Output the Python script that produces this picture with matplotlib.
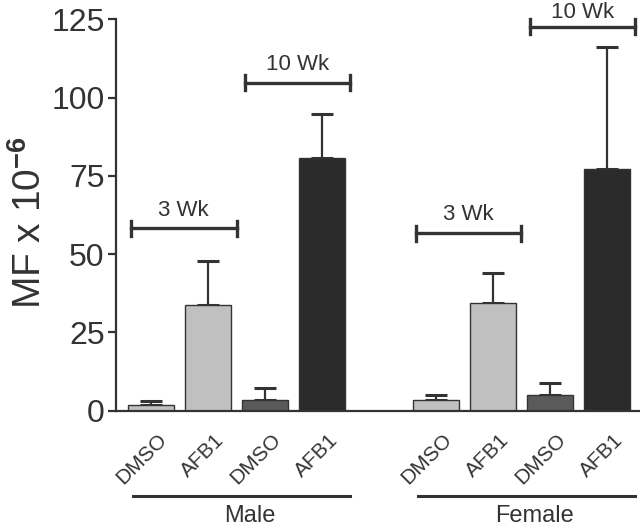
import numpy as np
import matplotlib as mpl
mpl.use('Agg')
import matplotlib.pyplot as plt
import matplotlib.transforms as mtransforms

plt.rcParams['font.family'] = ['Liberation Sans', 'DejaVu Sans']
plt.rcParams['mathtext.fontset'] = 'custom'
plt.rcParams['mathtext.rm'] = 'Liberation Sans'
plt.rcParams['mathtext.bf'] = 'Liberation Sans:bold'

# data
treatments = ['DMSO', 'AFB1', 'DMSO', 'AFB1']
groups = ['Male', 'Female']
male_mf = [1.9, 33.9, 3.5, 80.8]
male_err = [1.1, 14.0, 3.8, 13.8]
female_mf = [3.5, 34.4, 5.1, 77.3]
female_err = [1.6, 9.6, 3.7, 38.7]
bracket_labels = ['3 Wk', '10 Wk']
male_bracket_y = [58.3, 104.8]
female_bracket_y = [56.7, 122.7]
male_label_y = [64.6, 111.4]
female_label_y = [63.6, 128.0]

fills = ['#c0c0c0', '#c0c0c0', '#5a5a5a', '#2b2b2b']
ink = '#333333'

fig = plt.figure(figsize=(6.4, 5.29), dpi=100)
ax = fig.add_axes([115.7 / 640, 1 - 410.7 / 529, 1 - 115.7 / 640, 391.4 / 529])

positions = [np.arange(4), np.arange(4) + 5]
for pos, vals, errs, bys, lys in zip(positions, [male_mf, female_mf],
                                     [male_err, female_err],
                                     [male_bracket_y, female_bracket_y],
                                     [male_label_y, female_label_y]):
    ax.bar(pos, vals, width=0.8, color=fills, edgecolor=ink, linewidth=1.0, zorder=2)
    ax.errorbar(pos, vals, yerr=[np.zeros(4), errs], fmt='none', ecolor=ink,
                elinewidth=1.6, capsize=8, capthick=2.2, zorder=1)
    # time brackets
    for k, (lab, by, ly) in enumerate(zip(bracket_labels, bys, lys)):
        x0 = pos[0] + 2 * k - 0.35
        x1 = pos[0] + 2 * k + 1.5
        ax.plot([x0, x1], [by, by], color=ink, lw=2.4, clip_on=False)
        for xx in (x0, x1):
            ax.plot([xx, xx], [by - 2.4, by + 2.4], color=ink, lw=2.4, clip_on=False)
        ax.text((x0 + x1) / 2, ly, lab, ha='center', va='center_baseline',
                fontsize=16, color=ink, clip_on=False)

ax.set_xlim(-0.62, 8.58)
ax.set_ylim(0, 125)
ax.set_yticks([0, 25, 50, 75, 100, 125])
ax.tick_params(axis='y', labelsize=23, length=6, width=1.6, color=ink,
               labelcolor=ink, pad=2)
ax.set_xticks(np.concatenate(positions))
ax.set_xticklabels(treatments * 2, rotation=45, ha='right', va='top',
                   rotation_mode='anchor', fontsize=15, color=ink)
ax.tick_params(axis='x', length=0, pad=14)
for lbl in ax.get_xticklabels():
    lbl.set_transform(lbl.get_transform() + mtransforms.ScaledTranslation(0.06, 0, fig.dpi_scale_trans))

for s in ['top', 'right']:
    ax.spines[s].set_visible(False)
for s in ['left', 'bottom']:
    ax.spines[s].set_linewidth(1.6)
    ax.spines[s].set_color(ink)

ax.set_ylabel(r'MF x 10$^{\mathbf{-6}}$', fontsize=28, color=ink)
ax.yaxis.set_label_coords(-0.127, 0.48)

# group lines and labels
trans = mtransforms.blended_transform_factory(ax.transData, ax.transAxes)
for pos, g in zip(positions, groups):
    x0, x1 = pos[0] - 0.32, pos[-1] + 0.49
    ax.plot([x0, x1], [-0.218, -0.218], color=ink, lw=2.2, transform=trans, clip_on=False)
    ax.text((x0 + x1) / 2 + 0.15, -0.268, g, ha='center', va='center',
            fontsize=17, color=ink, transform=trans)

fig.savefig('out.png', dpi=100)
